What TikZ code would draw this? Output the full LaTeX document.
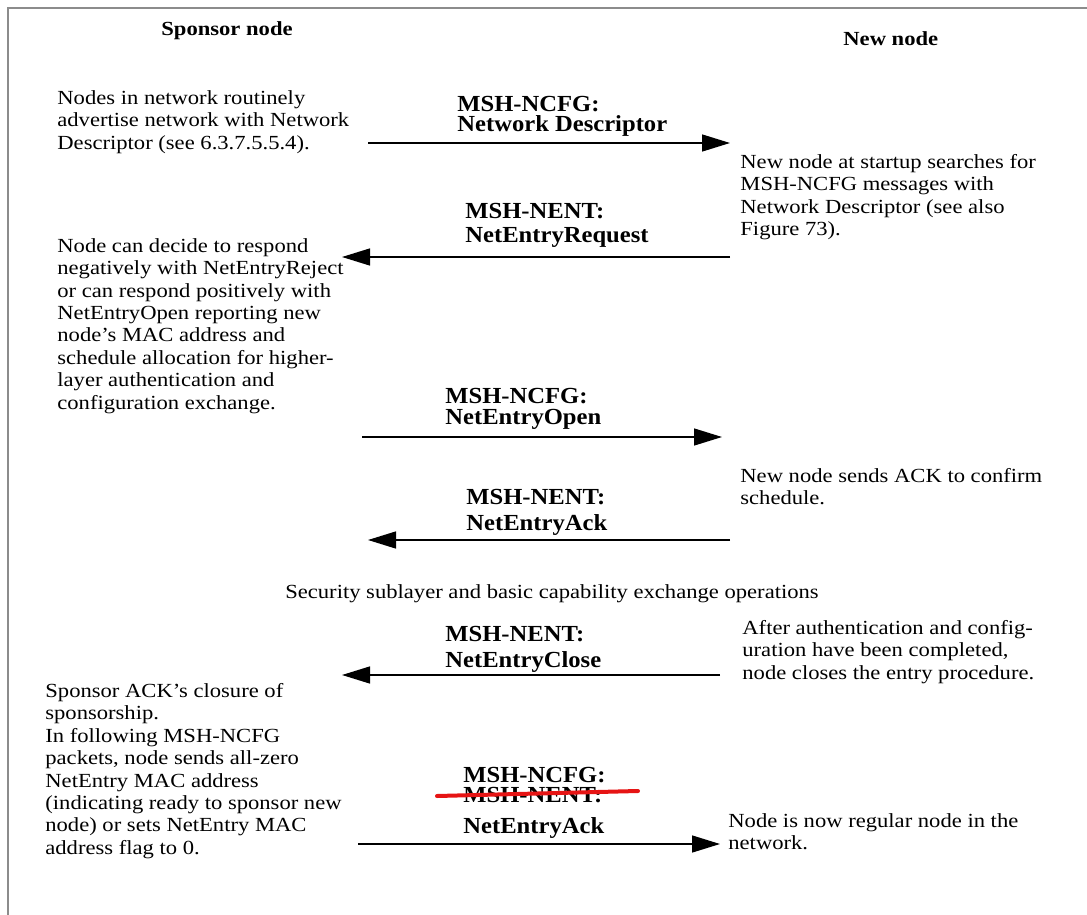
\documentclass[tikz,border=0pt]{standalone}
\usepackage{fontspec}
\setmainfont{Liberation Serif}[FakeStretch=1.13]
\newfontfamily\lblfont{Liberation Serif}[FakeStretch=1.07]
\usetikzlibrary{arrows.meta}
\definecolor{framegray}{RGB}{140,140,140}
\definecolor{strikered}{RGB}{230,20,20}
\tikzstyle{note} = [
    anchor=north west,
    inner sep=0pt,
    align=left,
    font={\fontsize{10}{11.2}\selectfont}
]
\tikzstyle{lbl} = [
    anchor=north west,
    inner sep=0pt,
    align=left,
    font={\lblfont\bfseries\fontsize{11.5}{12}\selectfont}
]
\tikzstyle{head} = [
    anchor=north west,
    inner sep=0pt,
    font={\bfseries\fontsize{10}{11.2}\selectfont}
]
\tikzstyle{msg} = [line width=0.7pt,-{Triangle[length=14pt,width=8.5pt]}]
\tikzstyle{strike} = [strikered, line width=2pt, line cap=round]

\begin{document}
\begin{tikzpicture}[x=0.5pt, y=-0.5pt]

\useasboundingbox (0,0) rectangle (1087,915);

\draw [framegray, line width=1pt] (8,915) -- (8,8) -- (1087,8);

\node (sponsor) [head] at (161,21) {Sponsor node};

\node (newnode) [head] at (843,31) {New node};

\node (advert) [note] at (57,90)
{Nodes in network routinely\\advertise network with Network\\Descriptor (see 6.3.7.5.5.4).};

\node (search) [note] at (740,154)
{New node at startup searches for\\MSH-NCFG messages with\\Network Descriptor (see also\\Figure 73).};

\node (decide) [note] at (57,238)
{Node can decide to respond\\negatively with NetEntryReject\\or can respond positively with\\NetEntryOpen reporting new\\node’s MAC address and\\schedule allocation for higher-\\layer authentication and\\configuration exchange.};

\node (confirm) [note] at (740,468)
{New node sends ACK to confirm\\schedule.};

\node (security) [note, anchor=north] at (552,584)
{Security sublayer and basic capability exchange operations};

\node (closes) [note] at (742,620)
{After authentication and config-\\uration have been completed,\\node closes the entry procedure.};

\node (closure) [note] at (45,683)
{Sponsor ACK’s closure of\\sponsorship.\\In following MSH-NCFG\\packets, node sends all-zero\\NetEntry MAC address\\(indicating ready to sponsor new\\node) or sets NetEntry MAC\\address flag to 0.};

\node (regular) [note] at (728,813)
{Node is now regular node in the\\network.};

\node (descr) [lbl] at (457,96) {MSH-NCFG:\\[-2pt]Network Descriptor};

\node (request) [lbl] at (465,203) {MSH-NENT:\\NetEntryRequest};

\node (open) [lbl] at (445,388) {MSH-NCFG:\\[-1.5pt]NetEntryOpen};

\node (ack) [lbl] at (466,489) {MSH-NENT:\\[1pt]NetEntryAck};

\node (close) [lbl] at (445,626) {MSH-NENT:\\[1pt]NetEntryClose};

\node (finalack) [lbl] at (463,767) {MSH-NCFG:\\[-2pt]MSH-NENT:\\[3.5pt]NetEntryAck};

\coordinate (sp1) at (368,143);
\coordinate (nw1) at (730,143);
\coordinate (sp2) at (342,257);
\coordinate (nw2) at (730,257);
\coordinate (sp3) at (362,437);
\coordinate (nw3) at (722,437);
\coordinate (sp4) at (368,540);
\coordinate (nw4) at (730,540);
\coordinate (sp5) at (342,675);
\coordinate (nw5) at (720,675);
\coordinate (sp6) at (358,844);
\coordinate (nw6) at (720,844);

\draw [msg] (sp1) -- (nw1);
\draw [msg] (nw2) -- (sp2);
\draw [msg] (sp3) -- (nw3);
\draw [msg] (nw4) -- (sp4);
\draw [msg] (nw5) -- (sp5);
\draw [msg] (sp6) -- (nw6);

\draw [strike] (437,796) -- (638,791);

\end{tikzpicture}
\end{document}
